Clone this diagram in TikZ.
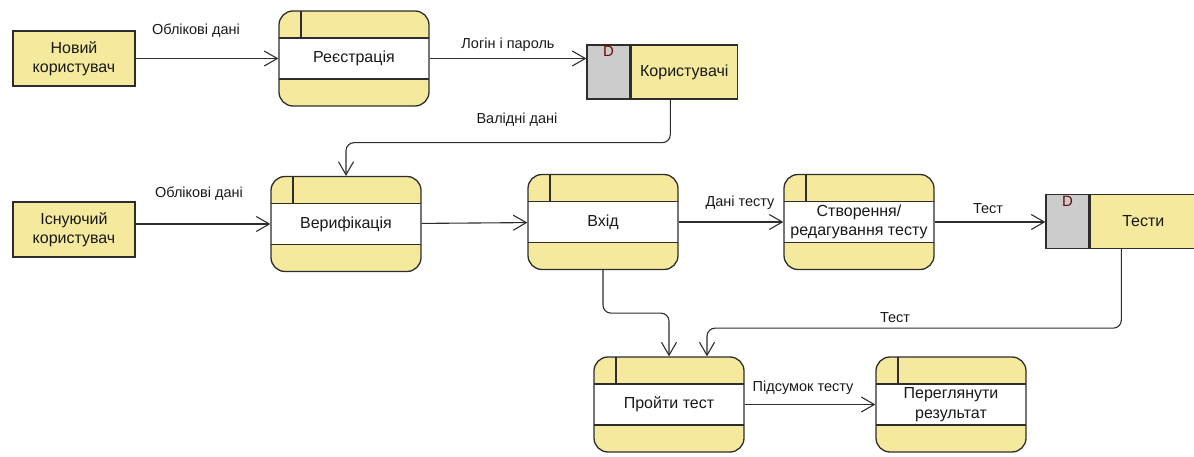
\documentclass[tikz,border=0pt]{standalone}
\usepackage{fontspec}
\setmainfont{Liberation Sans}
\usepackage{tikz}
\usetikzlibrary{arrows,arrows.meta,shapes,positioning}

\definecolor{dfdyellow}{RGB}{244,233,156}
\definecolor{dfdgray}{RGB}{204,204,204}
\definecolor{dfdline}{RGB}{45,45,45}
\definecolor{dfdred}{RGB}{110,10,10}

\tikzset{
  boxtext/.style={font=\fontsize{16}{19.5}\selectfont, text=black!90},
  lbl/.style={font=\fontsize{14.5}{17}\selectfont, text=black!90, inner sep=0pt},
  entity/.style={boxtext, draw=dfdline, line width=1.3pt, fill=dfdyellow,
    minimum width=122pt, minimum height=55pt, align=center, inner sep=0pt},
  proc/.style={boxtext, draw=dfdline, line width=1.3pt, fill=dfdyellow,
    rounded corners=14pt, minimum width=150pt, minimum height=95pt,
    align=center, inner sep=0pt,
    path picture={
      \fill[white, sharp corners] ([yshift=20.5pt]path picture bounding box.west)
        rectangle ([yshift=-20.5pt]path picture bounding box.east);
      \draw[dfdline, line width=1.3pt, sharp corners]
        ([yshift=20.5pt]path picture bounding box.west) -- ([yshift=20.5pt]path picture bounding box.east)
        ([yshift=-20.5pt]path picture bounding box.west) -- ([yshift=-20.5pt]path picture bounding box.east)
        ([xshift=22pt]path picture bounding box.north west) -- ([xshift=22pt,yshift=20.5pt]path picture bounding box.west);
    }},
  storeid/.style={draw=dfdline, line width=1.3pt, fill=dfdgray,
    minimum width=43pt, minimum height=54pt, inner sep=0pt,
    label={[anchor=north, inner sep=2pt, text=dfdred, font=\fontsize{15}{17}\selectfont]north:D}},
  store/.style={boxtext, draw=dfdline, line width=1.3pt, fill=dfdyellow,
    minimum width=106pt, minimum height=54pt, inner sep=0pt},
  flow/.style={draw=dfdline, line width=1.1pt, -{Straight Barb[length=13pt,width=15pt]}},
}

\begin{document}
\begin{tikzpicture}[x=1pt, y=-1pt]
        \useasboundingbox (0,0) rectangle (1194,457);
        % external entities
        \node[entity] (newuser) at (74,58.5) {Новий\\користувач};
        \node[entity] (olduser) at (74,229.5) {Існуючий\\користувач};
        % processes
        \node[proc] (reg) at (354,58.5) {Реєстрація};
        \node[proc] (verif) at (346,224) {Верифікація};
        \node[proc] (login) at (603,222) {Вхід};
        \node[proc] (create) at (859,222) {Створення/\\редагування тесту};
        \node[proc] (take) at (669,404.5) {Пройти тест};
        \node[proc] (view) at (951,404.5) {Переглянути\\результат};
        % data stores
        \node[storeid] (usersid) at (608.5,72) {};
        \node[store, right=0pt of usersid] (users) {Користувачі};
        \node[storeid] (testsid) at (1067.5,221.5) {};
        \node[store, right=0pt of testsid] (tests) {Тести};
        % flows
        \draw[flow] (newuser) -- (reg);
        \draw[flow] (reg.east) -- (reg.east -| usersid.west);
        \draw[flow, rounded corners=8pt] ([xshift=-14pt]users.south) -- ++(0,43) -| (verif.north);
        \draw[flow] (verif.west -| olduser.east) -- (verif.west);
        \draw[flow] (verif) -- (login);
        \draw[flow] (login) -- (create);
        \draw[flow] (create.east) -- (create.east -| testsid.west);
        \draw[flow, rounded corners=8pt] ([xshift=-22pt]tests.south) -- ++(0,79) -| ([xshift=38pt]take.north);
        \draw[flow, rounded corners=8pt] (login.south) -- ++(0,43) -| (take.north);
        \draw[flow] (take) -- (view);
        % flow labels
        \node[lbl] (l1) at (196,31) {Облікові дані};
        \node[lbl] (l2) at (508,45) {Логін і пароль};
        \node[lbl] (l3) at (517,120) {Валідні дані};
        \node[lbl] (l4) at (199,194) {Облікові дані};
        \node[lbl] (l5) at (740,203) {Дані тесту};
        \node[lbl] (l6) at (988,209) {Тест};
        \node[lbl] (l7) at (895,318) {Тест};
        \node[lbl] (l8) at (803,388) {Підсумок тесту};
    \end{tikzpicture}
\end{document}
